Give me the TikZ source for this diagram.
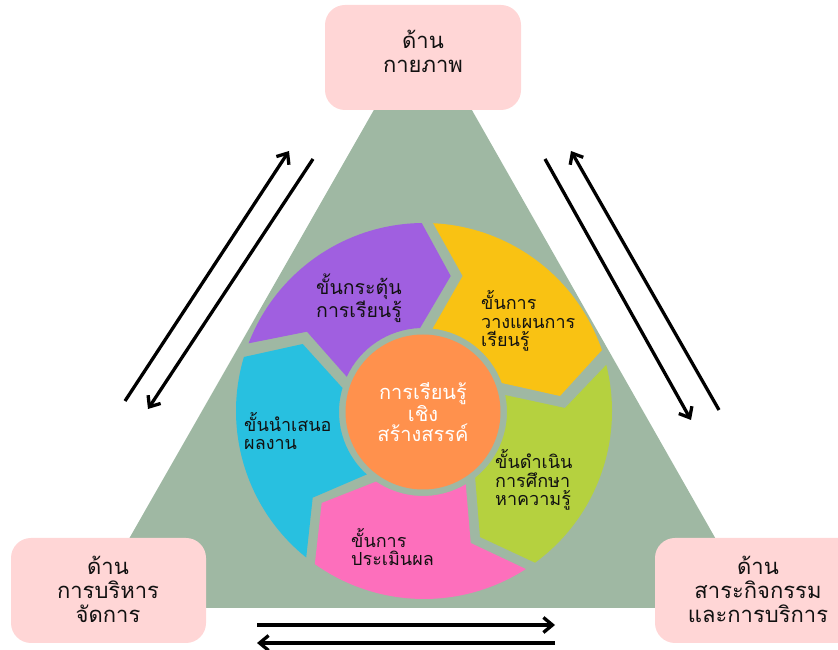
\documentclass[tikz,border=0pt]{standalone}
\usepackage{fontspec}
\usetikzlibrary{arrows.meta}
\newfontfamily\thaifont[Script=Thai]{Loma}
\definecolor{tri}{HTML}{9FB8A3}
\definecolor{boxpink}{HTML}{FFD6D6}
\definecolor{cpurple}{HTML}{A05FE0}
\definecolor{cyellow}{HTML}{F9C213}
\definecolor{clime}{HTML}{B5D13F}
\definecolor{cpink}{HTML}{FD6FBC}
\definecolor{cblue}{HTML}{28C0E0}
\definecolor{corange}{HTML}{FF914D}
\definecolor{ink}{HTML}{111111}
\tikzset{
  facetbox/.style={fill=boxpink,rounded corners=20pt,minimum width=195pt,minimum height=105pt,inner sep=0pt,draw=none},
  facettext/.style={font=\thaifont\fontsize{22}{24}\selectfont,text=ink,align=center,inner sep=0pt},
  steptext/.style={font=\thaifont\fontsize{18}{18.5}\selectfont,text=ink,align=left,inner sep=0pt,anchor=west},
  coretext/.style={font=\thaifont\fontsize{20}{19.5}\selectfont,text=white,align=center,inner sep=0pt},
  twoway/.style={line width=3.3pt,color=black,-{Straight Barb[length=9pt,width=15pt,line width=3.3pt]}}
}
\begin{document}
\begin{tikzpicture}[x=1pt,y=1pt]
\useasboundingbox (0,0) rectangle (838,650);
\fill[tri] (423,626) -- (755,42) -- (89.5,42) -- cycle;
% wheel
\fill[cpurple] (307,318.3) -- ([shift={(424,239)}]158.9:188) arc[start angle=158.9,end angle=90.7,radius=188pt] -- (450.7,374) -- ([shift={(423,238)}]92:84) arc[start angle=92,end angle=155.2,radius=84pt] -- cycle;
\fill[cyellow] (462.7,374) -- ([shift={(424,239)}]87.2:188) arc[start angle=87.2,end angle=18.9,radius=188pt] -- (560,254) -- ([shift={(423,238)}]20.2:84) arc[start angle=20.2,end angle=83.4,radius=84pt] -- cycle;
\fill[clime] (565,242) -- ([shift={(424,239)}]14.2:188) arc[start angle=14.2,end angle=-53.8,radius=188pt] -- (480,113) -- ([shift={(423,238)}]-51.6:84) arc[start angle=-51.6,end angle=11.6,radius=84pt] -- cycle;
\fill[cpink] (321.7,147) -- ([shift={(424,239)}]-125.5:188) arc[start angle=-125.5,end angle=-57.2,radius=188pt] -- (470.7,107) -- ([shift={(423,238)}]-59.4:84) arc[start angle=-59.4,end angle=-124,radius=84pt] -- cycle;
\fill[cblue] (312.7,152.3) -- ([shift={(424,239)}]-128.8:188) arc[start angle=-128.8,end angle=-196.7,radius=188pt] -- (302.7,306) -- ([shift={(423,238)}]-196.6:84) arc[start angle=-196.6,end angle=-132,radius=84pt] -- cycle;
\node[circle,fill=corange,minimum size=155pt,inner sep=0pt] (core) at (423,238) {};
% facet boxes
\node[facetbox,minimum width=196pt] (boxtop) at (423,592.5) {};
\node[facetbox] (boxleft) at (108.5,59.5) {};
\node[facetbox,minimum width=206pt] (boxright) at (758,59.5) {};
% texts
\node[facettext] (t1) at (423,599) {ด้าน\\กายภาพ};
\node[facettext] (t2) at (108,61) {ด้าน\\การบริหาร\\จัดการ};
\node[facettext] (t3) at (758,61) {ด้าน\\สาระกิจกรรม\\และการบริการ};
\node[coretext] (ct) at (423,238) {การเรียนรู้\\เชิง\\สร้างสรรค์};
\node[steptext,font=\thaifont\fontsize{19.5}{19.5}\selectfont] (s1) at (316,352) {ขั้นกระตุ้น\\การเรียนรู้};
\node[steptext] (s2) at (481,329) {ขั้นการ\\วางแผนการ\\เรียนรู้};
\node[steptext] (s3) at (495,170) {ขั้นดำเนิน\\การศึกษา\\หาความรู้};
\node[steptext] (s4) at (351,103) {ขั้นการ\\ประเมินผล};
\node[steptext] (s5) at (244,219) {ขั้นนำเสนอ\\ผลงาน};
% arrows
\coordinate (a1) at (125,249); \coordinate (a2) at (289,499);
\coordinate (b1) at (313,491); \coordinate (b2) at (148,241);
\coordinate (c1) at (719,240); \coordinate (c2) at (571,499);
\coordinate (d1) at (545,491); \coordinate (d2) at (691,230);
\coordinate (e1) at (257,25); \coordinate (e2) at (555,25);
\coordinate (f1) at (555,7); \coordinate (f2) at (257,7);
\draw[twoway] (a1) -- (a2);
\draw[twoway] (b1) -- (b2);
\draw[twoway] (c1) -- (c2);
\draw[twoway] (d1) -- (d2);
\draw[twoway] (e1) -- (e2);
\draw[twoway] (f1) -- (f2);
\end{tikzpicture}
\end{document}
